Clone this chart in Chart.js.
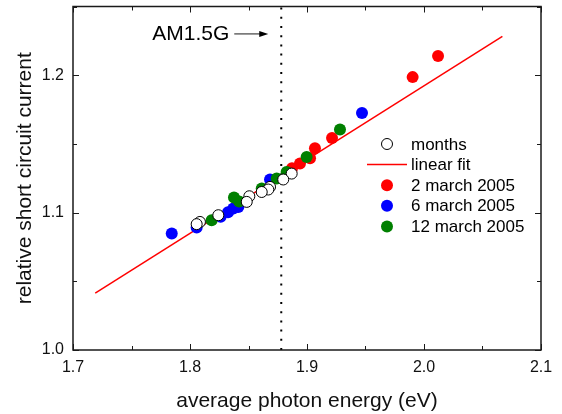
<!DOCTYPE html>
<html>
<head>
<meta charset="utf-8">
<script src="https://cdn.jsdelivr.net/npm/chart.js@4.4.0/dist/chart.umd.min.js"></script>
<style>
  html, body { margin: 0; padding: 0; background: #fff; }
  #wrap { width: 562px; height: 414px; }
</style>
</head>
<body>
<div id="wrap"><canvas id="chart" width="562" height="414"></canvas></div>
<script>
// --- DATA ---
const FONT = '"Liberation Sans", Arial, Helvetica, sans-serif';

const xRange = [1.7, 2.1];
const yRange = [1.0, 1.25];
const am15gEnergy = 1.878;

// monthly averages (open circles)
const monthsX = [1.8869, 1.8797, 1.8684, 1.8669, 1.8613, 1.8507, 1.8485, 1.8242, 1.8085, 1.8057];
const monthsY = [1.1284, 1.1241, 1.1187, 1.1168, 1.1150, 1.1119, 1.1078, 1.0981, 1.0932, 1.0916];

// linear fit end points
const fitX = [1.719, 2.067];
const fitY = [1.0414, 1.2282];

const march2X = [2.0120, 1.9903, 1.9214, 1.9068, 1.9026, 1.8940, 1.8872];
const march2Y = [1.2139, 1.1986, 1.1543, 1.1468, 1.1395, 1.1357, 1.1323];

const march6X = [1.9470, 1.8684, 1.8413, 1.8370, 1.8325, 1.8262, 1.8057, 1.7844];
const march6Y = [1.1725, 1.1241, 1.1041, 1.1030, 1.1003, 1.0969, 1.0892, 1.0848];

const march12X = [1.9282, 1.8997, 1.8826, 1.8741, 1.8613, 1.8420, 1.8376, 1.8185];
const march12Y = [1.1604, 1.1405, 1.1296, 1.1248, 1.1175, 1.1080, 1.1110, 1.0945];

const pts = (xs, ys) => xs.map((x, i) => ({ x, y: ys[i] }));

// --- PLUGINS ---
const framePlugin = {
    id: 'frame',
    afterDatasetsDraw(chart) {
        const { ctx, chartArea: a, scales: { x, y } } = chart;
        ctx.save();
        ctx.strokeStyle = '#1a1a1a';
        ctx.lineWidth = 1;
        ctx.beginPath();
        // inward ticks on all four sides, major every 0.1, minor every 0.05
        for (let i = 0; i <= 8; i++) {
            const px = Math.round(x.getPixelForValue(xRange[0] + i * 0.05)) + 0.5;
            const len = i % 2 === 0 ? 6 : 4;
            ctx.moveTo(px, a.bottom); ctx.lineTo(px, a.bottom - len);
            ctx.moveTo(px, a.top); ctx.lineTo(px, a.top + len);
        }
        for (let i = 0; i <= 5; i++) {
            const py = Math.round(y.getPixelForValue(yRange[0] + i * 0.05)) + 0.5;
            const len = i % 2 === 0 ? 6 : 4;
            ctx.moveTo(a.left, py); ctx.lineTo(a.left + len, py);
            ctx.moveTo(a.right, py); ctx.lineTo(a.right - len, py);
        }
        ctx.stroke();
        ctx.lineWidth = 1.5;
        ctx.strokeRect(a.left, a.top, a.right - a.left, a.bottom - a.top);

        // AM1.5G label and arrow
        const lineX = x.getPixelForValue(am15gEnergy);
        const ay = y.getPixelForValue(1.2304);
        ctx.fillStyle = '#000';
        ctx.font = '21px ' + FONT;
        ctx.textAlign = 'right';
        ctx.textBaseline = 'middle';
        ctx.fillText('AM1.5G', lineX - 52, ay + 1);
        ctx.lineWidth = 1;
        ctx.beginPath();
        ctx.moveTo(lineX - 47, ay + 0.5);
        ctx.lineTo(lineX - 20, ay + 0.5);
        ctx.stroke();
        ctx.beginPath();
        ctx.moveTo(lineX - 13, ay + 0.5);
        ctx.lineTo(lineX - 22, ay - 2.5);
        ctx.lineTo(lineX - 22, ay + 3.5);
        ctx.closePath();
        ctx.fill();
        ctx.restore();
    }
};

const legendPlugin = {
    id: 'sideLegend',
    afterDraw(chart) {
        const { ctx } = chart;
        const sets = chart.data.datasets.filter(d => d.label);
        ctx.save();
        ctx.font = '17px ' + FONT;
        ctx.textAlign = 'left';
        ctx.textBaseline = 'middle';
        sets.forEach((d, i) => {
            const cy = 144 + i * 20.6;
            if (d.showLine) {
                ctx.strokeStyle = d.borderColor;
                ctx.lineWidth = d.borderWidth;
                ctx.beginPath();
                ctx.moveTo(367, cy);
                ctx.lineTo(407, cy);
                ctx.stroke();
            } else {
                ctx.beginPath();
                ctx.arc(387, cy, d.pointRadius, 0, Math.PI * 2);
                ctx.fillStyle = d.backgroundColor;
                ctx.fill();
                if (d.borderWidth) {
                    ctx.strokeStyle = d.borderColor;
                    ctx.lineWidth = d.borderWidth;
                    ctx.stroke();
                }
            }
            ctx.fillStyle = '#000';
            ctx.fillText(d.label, 411, cy + 1);
        });
        ctx.restore();
    }
};

// --- CHART ---
const ctx = document.getElementById('chart').getContext('2d');
new Chart(ctx, {
    type: 'scatter',
    data: {
        datasets: [
            {
                label: 'months', data: pts(monthsX, monthsY), order: 0,
                pointRadius: 5.5, backgroundColor: '#ffffff', borderColor: '#000000', borderWidth: 1
            },
            {
                label: 'linear fit', data: pts(fitX, fitY), order: 10, showLine: true,
                pointRadius: 0, borderColor: '#ff0000', borderWidth: 1.5, backgroundColor: '#ff0000'
            },
            {
                label: '2 march 2005', data: pts(march2X, march2Y), order: 3,
                pointRadius: 6, backgroundColor: '#ff0000', borderWidth: 0
            },
            {
                label: '6 march 2005', data: pts(march6X, march6Y), order: 2,
                pointRadius: 6, backgroundColor: '#0000ff', borderWidth: 0
            },
            {
                label: '12 march 2005', data: pts(march12X, march12Y), order: 1,
                pointRadius: 6, backgroundColor: '#008000', borderWidth: 0
            },
            {
                label: '', data: [{ x: am15gEnergy, y: yRange[0] }, { x: am15gEnergy, y: yRange[1] }],
                order: 11, showLine: true, pointRadius: 0,
                borderColor: '#000000', borderWidth: 2, borderDash: [2, 7.2]
            }
        ]
    },
    options: {
        responsive: false,
        animation: false,
        layout: { padding: { top: 6, right: 21, left: 0, bottom: 0 } },
        plugins: { legend: { display: false }, tooltip: { enabled: false } },
        scales: {
            x: {
                type: 'linear', min: xRange[0], max: xRange[1], bounds: 'data',
                afterFit: s => { s.height = 64; s.paddingLeft = 0; s.paddingRight = 0; },
                grid: { display: false, drawTicks: false },
                border: { display: false },
                ticks: {
                    stepSize: 0.1, includeBounds: false, padding: 8,
                    color: '#111', font: { family: FONT, size: 16 },
                    callback: v => v.toFixed(1)
                },
                title: {
                    display: true, text: 'average photon energy (eV)', color: '#111',
                    font: { family: FONT, size: 21 }, padding: { top: 0, bottom: 0 }
                }
            },
            y: {
                type: 'linear', min: yRange[0], max: yRange[1], bounds: 'data',
                afterFit: s => { s.width = 73; s.paddingTop = 0; s.paddingBottom = 0; },
                grid: { display: false, drawTicks: false },
                border: { display: false },
                ticks: {
                    stepSize: 0.1, includeBounds: false, padding: 9,
                    color: '#111', font: { family: FONT, size: 16 },
                    callback: v => v.toFixed(1)
                },
                title: {
                    display: true, text: 'relative short circuit current', color: '#111',
                    font: { family: FONT, size: 21 }, padding: { top: 13, bottom: 0 }
                }
            }
        }
    },
    plugins: [framePlugin, legendPlugin]
});
</script>
</body>
</html>
